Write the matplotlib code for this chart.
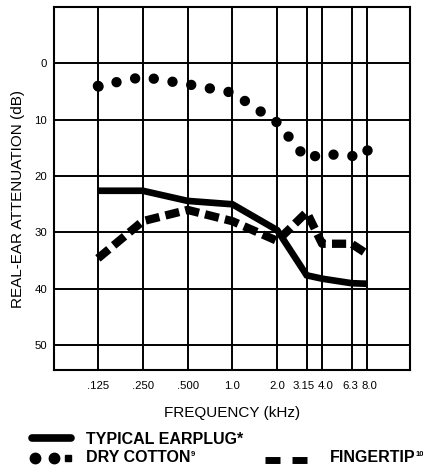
import matplotlib
matplotlib.use("Agg")
import matplotlib.pyplot as plt
import matplotlib.transforms as mtransforms
from matplotlib.lines import Line2D

plt.rcParams['font.family'] = ['Liberation Sans', 'DejaVu Sans']

# frequencies (kHz) and tick labels
freqs = [0.125, 0.25, 0.5, 1.0, 2.0, 3.15, 4.0, 6.3, 8.0]
freq_labels = ['.125', '.250', '.500', '1.0', '2.0', '3.15', '4.0', '6.3', '8.0']

# attenuation in dB
earplug = [22.6, 22.6, 24.4, 25.0, 29.6, 37.6, 38.2, 39.0, 39.1]
dry_cotton = [4.0, 2.4, 3.7, 5.2, 10.5, 17.0, 16.0, 16.5, 15.3]
fingertip = [34.6, 28.0, 26.0, 28.0, 31.5, 26.4, 32.0, 32.0, 33.8]

y_ticks = [0, 10, 20, 30, 40, 50]

fig = plt.figure(figsize=(4.23, 4.70), dpi=100)
ax = fig.add_axes([54 / 423, 1 - 370 / 470, 356 / 423, 363 / 470])

ax.set_xscale('log', base=2)
ax.set_xlim(0.0634, 15.56)
ax.set_ylim(54.4, -10)

ax.set_xticks(freqs)
ax.set_xticklabels(freq_labels)
ax.minorticks_off()
ax.set_yticks(y_ticks)
ax.tick_params(length=0, labelsize=8.2)
ax.tick_params(axis='x', pad=8)
ax.tick_params(axis='y', pad=5)
ax.grid(True, color='black', linewidth=1.4)
for s in ax.spines.values():
    s.set_linewidth(1.5)

# nudge crowded labels apart like the original
shifts = {'3.15': -3, '4.0': 4, '6.3': -1, '8.0': 2}
for lab in ax.get_xticklabels():
    dx = shifts.get(lab.get_text(), 0)
    if dx:
        lab.set_transform(lab.get_transform() +
                          mtransforms.ScaledTranslation(dx / 100, 0, fig.dpi_scale_trans))

ax.plot(freqs, fingertip, color='black', linewidth=6, dashes=(1.7, 0.75),
        dash_capstyle='butt', zorder=3)
ax.plot(freqs, earplug, color='black', linewidth=4.8, solid_joinstyle='miter',
        solid_capstyle='butt', zorder=4)
ax.plot(freqs, dry_cotton, color='black', linewidth=7.5, dashes=(0.001, 1.82),
        dash_capstyle='round', marker='o', markersize=7.5, markeredgewidth=0,
        markevery=[0, -1], zorder=4)

ax.set_xlabel('FREQUENCY (kHz)', fontsize=11)
ax.xaxis.set_label_coords(0.5, -0.1)
ax.set_ylabel('REAL-EAR ATTENUATION (dB)', fontsize=11, va='center')
ax.yaxis.set_label_coords(-0.1025, 0.47)


def px(x, y):
    return x / 423, 1 - y / 470


# legend drawn by hand
fig.add_artist(Line2D([px(32, 0)[0], px(71, 0)[0]], [px(0, 437.5)[1]] * 2,
                      color='black', linewidth=5.5, solid_capstyle='round'))
fig.add_artist(Line2D([px(35, 0)[0], px(54, 0)[0]], [px(0, 457.5)[1]] * 2,
                      color='black', linestyle='none', marker='o', markersize=7.5))
fig.add_artist(Line2D([px(68, 0)[0]], [px(0, 457.5)[1]],
                      color='black', linestyle='none', marker='s', markersize=5))
fig.add_artist(Line2D([px(265, 0)[0], px(307, 0)[0]], [px(0, 460)[1]] * 2,
                      color='black', linewidth=5, dashes=(2.16, 1.73)))

t1 = fig.text(*px(86, 439), 'TYPICAL EARPLUG*', fontsize=11.5,
              fontweight='bold', va='center', ha='left')
t2 = fig.text(*px(86, 457.5), 'DRY COTTON', fontsize=11.5,
              fontweight='bold', va='center', ha='left')
t3 = fig.text(*px(330, 457.5), 'FINGERTIP', fontsize=11.5,
              fontweight='bold', va='center', ha='left')
for t, sup in [(t2, '9'), (t3, '10')]:
    ax.annotate(sup, xy=(1, 0.9), xycoords=t, fontsize=5.5, fontweight='bold',
                va='top', ha='left')

fig.savefig('out.png', dpi=100)
